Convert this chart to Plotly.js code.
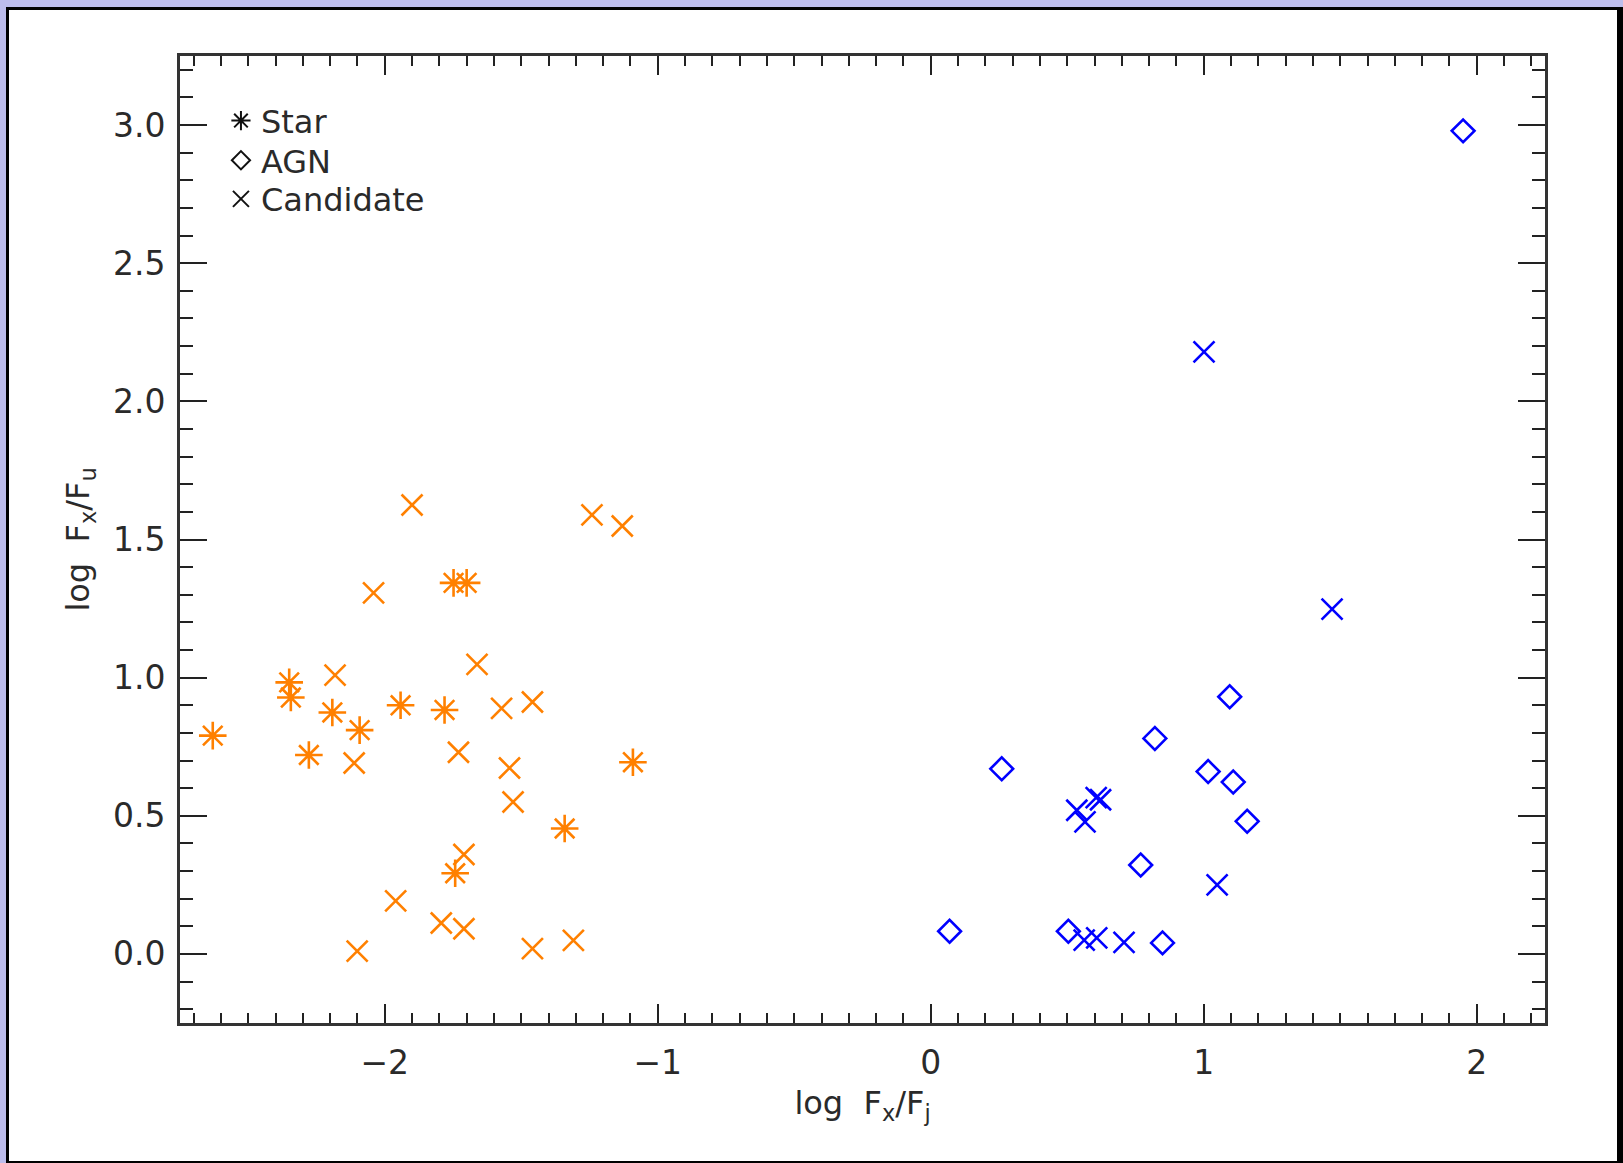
<!DOCTYPE html>
<html>
<head>
<meta charset="utf-8">
<script src="https://cdn.plot.ly/plotly-3.0.1.min.js"></script>
<style>
  html, body { margin: 0; padding: 0; }
  body { width: 1623px; height: 1163px; background: #bdbdec; position: relative; overflow: hidden; }
  #frame { position: absolute; left: 6px; top: 7px; width: 1608px; height: 1151px;
           background: #ffffff; border-left: 3px solid #000; border-top: 3px solid #000;
           border-right: 6px solid #000; border-bottom: 2px solid #000; }
  #chart { position: absolute; left: 0; top: 0; width: 1608px; height: 1151px; }
</style>
</head>
<body>
<div id="frame"><div id="chart"></div></div>
<script>
// Stars (orange asterisks)
const starX = [-2.630, -2.350, -2.344, -2.278, -2.192, -2.092, -1.942, -1.781, -1.748, -1.700, -1.742, -1.341, -1.091];
const starY = [0.790, 0.983, 0.928, 0.720, 0.874, 0.810, 0.900, 0.883, 1.343, 1.343, 0.292, 0.454, 0.694];

// Candidates among stars (orange crosses)
const candOrangeX = [-1.900, -1.241, -1.130, -2.041, -1.662, -2.182, -1.572, -1.459, -2.112, -1.730, -1.543, -1.530, -1.710, -1.960, -1.793, -1.710, -2.101, -1.459, -1.309];
const candOrangeY = [1.625, 1.589, 1.549, 1.307, 1.048, 1.009, 0.889, 0.912, 0.691, 0.730, 0.673, 0.550, 0.360, 0.192, 0.112, 0.091, 0.010, 0.019, 0.049];

// AGN (blue diamonds)
const agnX = [1.950, 1.095, 0.821, 0.260, 1.016, 1.108, 1.159, 0.769, 0.069, 0.504, 0.849];
const agnY = [2.979, 0.931, 0.780, 0.670, 0.660, 0.622, 0.480, 0.322, 0.082, 0.082, 0.040];

// Candidates among AGN (blue crosses)
const candBlueX = [1.001, 1.470, 1.049, 0.535, 0.565, 0.606, 0.622, 0.562, 0.608, 0.708];
const candBlueY = [2.179, 1.248, 0.250, 0.520, 0.478, 0.566, 0.558, 0.050, 0.058, 0.042];

const legendNames = ["Star", "AGN", "Candidate"];

const ORANGE = "#ff8000";
const BLUE = "#0000ff";
const INK = "#2a2a2a";
const FONT = "DejaVu Sans, Liberation Sans, sans-serif";

function pts(x, y, symbol, color, size) {
  return {
    x: x, y: y, type: "scatter", mode: "markers", showlegend: false, hoverinfo: "skip",
    marker: { symbol: symbol, size: size, color: color, line: { color: color, width: 2.6 } }
  };
}
function legendEntry(name, symbol, size, legendId) {
  return {
    x: [null], y: [null], type: "scatter", mode: "markers", name: name, showlegend: true,
    legend: legendId,
    marker: { symbol: symbol, size: size, color: "#111", line: { color: "#111", width: 2 } }
  };
}

const data = [
  pts(candOrangeX, candOrangeY, "x-thin", ORANGE, 21),
  pts(starX, starY, "asterisk-open", ORANGE, 23),
  pts(agnX, agnY, "diamond-open", BLUE, 17.5),
  pts(candBlueX, candBlueY, "x-thin", BLUE, 21),
  legendEntry(legendNames[0], "asterisk-open", 16, "legend"),
  legendEntry(legendNames[1], "diamond-open", 14, "legend2"),
  legendEntry(legendNames[2], "x-thin", 16, "legend3")
];

const axisCommon = {
  showgrid: false, zeroline: false, showline: true, linecolor: "#333", linewidth: 3,
  mirror: "ticks", ticks: "inside", tickcolor: "#222", tickwidth: 2,
  tickfont: { family: FONT, size: 33, color: INK }
};

function legendBox(yCenter) {
  return {
    x: 0.030, y: yCenter, xanchor: "left", yanchor: "middle",
    bgcolor: "rgba(0,0,0,0)", borderwidth: 0,
    font: { family: FONT, size: 32, color: INK },
    itemwidth: 30
  };
}

const layout = {
  width: 1608, height: 1151,
  margin: { l: 171, r: 72, t: 46, b: 138 },
  paper_bgcolor: "#ffffff", plot_bgcolor: "#ffffff",
  font: { family: FONT, color: INK, size: 32 },
  showlegend: true,
  legend: legendBox(0.933),
  legend2: legendBox(0.892),
  legend3: legendBox(0.852),
  xaxis: Object.assign({}, axisCommon, {
    range: [-2.75, 2.25], dtick: 1, tick0: 0, ticklen: 19,
    ticklabelstandoff: 8,
    minor: { dtick: 0.1, ticks: "inside", ticklen: 10, tickcolor: "#222", tickwidth: 2 },
    title: { text: "log  F<sub>x</sub>/F<sub>j</sub>", font: { family: FONT, size: 32, color: INK }, standoff: 12 }
  }),
  yaxis: Object.assign({}, axisCommon, {
    range: [-0.25, 3.25], dtick: 0.5, tick0: 0, ticklen: 27, tickformat: ".1f",
    ticklabelstandoff: 5,
    minor: { dtick: 0.1, ticks: "inside", ticklen: 13, tickcolor: "#222", tickwidth: 2 },
    title: { text: "log  F<sub>x</sub>/F<sub>u</sub>", font: { family: FONT, size: 32, color: INK }, standoff: 14 }
  })
};

Plotly.newPlot("chart", data, layout, { staticPlot: true, displayModeBar: false });
</script>
</body>
</html>
